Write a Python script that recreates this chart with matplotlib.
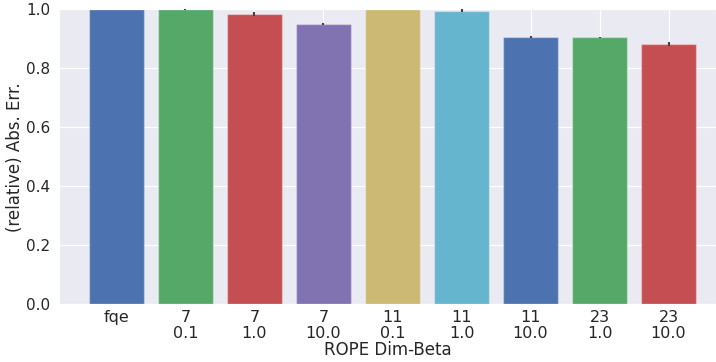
import numpy as np
import matplotlib; matplotlib.use("Agg")
import matplotlib.pyplot as plt
import seaborn as sns

sns.set_style("darkgrid")
plt.rcParams['font.family'] = ['DejaVu Sans']

labels = ["fqe", "7\n0.1", "7\n1.0", "7\n10.0", "11\n0.1", "11\n1.0", "11\n10.0", "23\n1.0", "23\n10.0"]
rel_err = [1.0, 1.0, 0.984, 0.951, 1.0, 0.995, 0.907, 0.905, 0.883]
err_sd = [0.0, 0.002, 0.007, 0.003, 0.0, 0.005, 0.004, 0.001, 0.006]

deep = ["#4C72B0", "#55A868", "#C44E52", "#8172B2", "#CCB974", "#64B5CD"]
colors = [deep[i % len(deep)] for i in range(len(labels))]

fig = plt.figure(figsize=(7.16, 3.62), dpi=100)
ax = fig.add_axes([0.0824, 0.1602, 0.9176, 0.8136])
x = np.arange(len(labels))
ax.bar(x, rel_err, width=0.8, color=colors, edgecolor=(1, 1, 1, 0.35), linewidth=1, zorder=2)
ax.errorbar(x, rel_err, yerr=err_sd, fmt="none", ecolor=".26", elinewidth=1.5, capsize=0, zorder=3)
ax.set_xticks(x)
ax.set_xticklabels(labels, fontsize=11.5, linespacing=1.05)
ax.tick_params(axis="x", pad=1)
ax.tick_params(axis="y", labelsize=11, pad=3)
ax.set_xlim(-0.833, 8.688)
ax.set_ylim(0, 1.0)
ax.set_yticks([0, 0.2, 0.4, 0.6, 0.8, 1.0])
ax.set_xlabel("ROPE Dim-Beta", fontsize=12, labelpad=0)
ax.set_ylabel("(relative) Abs. Err.", fontsize=12, labelpad=1)
fig.savefig("out.png", dpi=100)
